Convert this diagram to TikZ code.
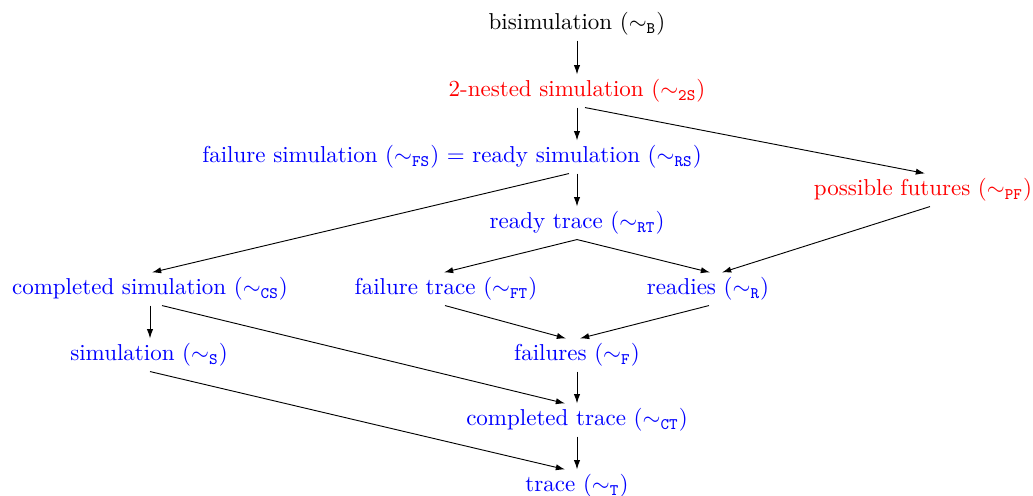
\documentclass[tikz,border=0pt]{standalone}
\usetikzlibrary{arrows.meta,calc}
\begin{document}
\begin{tikzpicture}[x=0.4348pt,y=-0.4348pt,
  lbl/.style={inner sep=2pt},
  redlbl/.style={lbl,text=red},
  bluelbl/.style={lbl,text=blue},
  arr/.style={-{Latex[length=4pt,width=2.7pt]}, line width=0.4pt}]
\useasboundingbox (0,0) rectangle (1033,496);
\node[lbl] (b) at (577,24) {bisimulation ($\sim_{\mathtt{B}}$)};
\node[redlbl] (ns) at (577,91) {2-nested simulation ($\sim_{\mathtt{2S}}$)};
\node[bluelbl] (fsrs) at (452,157) {failure simulation ($\sim_{\mathtt{FS}}$) $=$ ready simulation ($\sim_{\mathtt{RS}}$)};
\node[redlbl] (pf) at (923,190) {possible futures ($\sim_{\mathtt{PF}}$)};
\node[bluelbl] (rt) at (577,223) {ready trace ($\sim_{\mathtt{RT}}$)};
\node[bluelbl] (cs) at (150,289) {completed simulation ($\sim_{\mathtt{CS}}$)};
\node[bluelbl] (ft) at (446,289) {failure trace ($\sim_{\mathtt{FT}}$)};
\node[bluelbl] (r) at (708,289) {readies ($\sim_{\mathtt{R}}$)};
\node[bluelbl] (s) at (149,355) {simulation ($\sim_{\mathtt{S}}$)};
\node[bluelbl] (f) at (577,355) {failures ($\sim_{\mathtt{F}}$)};
\node[bluelbl] (ct) at (577,420) {completed trace ($\sim_{\mathtt{CT}}$)};
\node[bluelbl] (t) at (577,486) {trace ($\sim_{\mathtt{T}}$)};

\draw[arr] (b) -- (ns);
\draw[arr] (ns.south) -- (ns.south |- fsrs.north);
\draw[arr] ($(ns.south)+(8,0)$) -- ($(pf.north)+(2,0)$);
\draw[arr] (fsrs.south -| rt.north) -- (rt.north);
\draw[arr] ($(fsrs.south -| rt.north)+(-8,0)$) -- ($(cs.north)+(2,0)$);
\draw[arr] (rt.south) -- ($(ft.north)+(-2,0)$);
\draw[arr] (rt.south) -- ($(r.north)+(2,0)$);
\draw[arr] ($(pf.south)+(7,0)$) -- ($(r.north)+(14,0)$);
\draw[arr] (cs.south) -- (cs.south |- s.north);
\draw[arr] ($(cs.south)+(12,0)$) -- ($(ct.north)+(-12,0)$);
\draw[arr] ($(ft.south)+(-1,0)$) -- ($(f.north)+(-11,0)$);
\draw[arr] ($(r.south)+(1,0)$) -- ($(f.north)+(3,0)$);
\draw[arr] (f) -- (ct);
\draw[arr] ($(s.south)+(1,0)$) -- ($(t.north)+(-12,0)$);
\draw[arr] (ct) -- (t);
\end{tikzpicture}
\end{document}
